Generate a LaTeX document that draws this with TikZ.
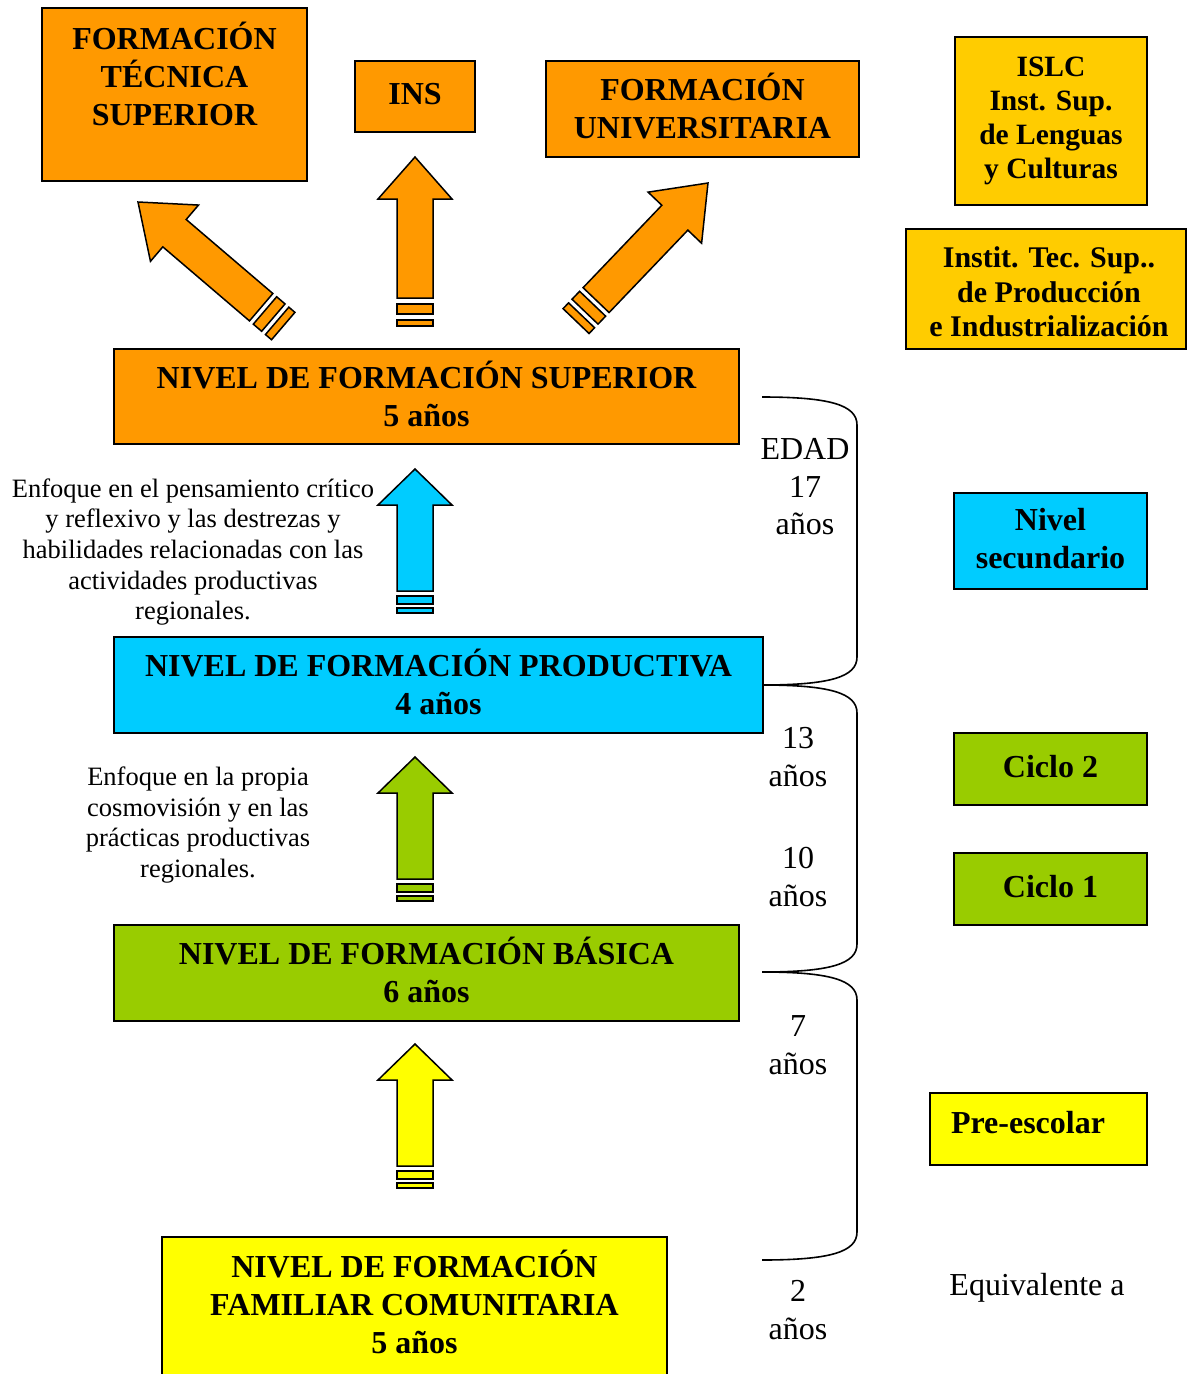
\documentclass[tikz,border=0pt]{standalone}
\usepackage{fontspec}
\setmainfont{Liberation Serif}
\definecolor{orng}{HTML}{FF9900}
\definecolor{cyn}{HTML}{00CCFF}
\definecolor{grn}{HTML}{99CC00}
\definecolor{ylw}{HTML}{FFFF00}
\definecolor{gld}{HTML}{FFCC00}
\tikzset{
  pics/striparrow/.style args={#1/#2/#3/#4/#5/#6/#7}{code={
    \draw[line width=1.5pt, line join=miter, fill=#1]
      (0,0) -- (37,#2) -- (18,#2) -- (18,#3) -- (-18,#3) -- (-18,#2) -- (-37,#2) -- cycle;
    \draw[line width=1.5pt, fill=#1] (-18,#4) rectangle (18,#5);
    \draw[line width=1.5pt, fill=#1] (-18,#6) rectangle (18,#7);
  }}
}
\begin{document}
\begin{tikzpicture}[x=1pt,y=-1pt,
  framed/.style={draw=black, line width=1.5pt, inner sep=0pt, align=center},
  box/.style={framed, font=\bfseries\fontsize{32}{38}\selectfont,
    execute at end node={\rule[-6pt]{0pt}{6pt}}},
  smallbox/.style={framed, font=\bfseries\fontsize{29.5}{34}\selectfont},
  btext/.style={inner sep=0pt, align=center, font=\bfseries\fontsize{32}{38}\selectfont},
  note/.style={inner sep=0pt, align=center, font=\fontsize{26.5}{30.6}\selectfont},
  age/.style={inner sep=0pt, align=center, font=\fontsize{32}{37.5}\selectfont},
  brace/.style={draw=black, line width=1.6pt}]
\useasboundingbox (0,0) rectangle (1187,1374);

% top boxes
\node[framed, fill=orng, minimum width=265pt, minimum height=173pt] (fts) at (174.5,94.5) {};
\node[btext] (ftstext) at (174.5,74) {FORMACIÓN\\TÉCNICA\\SUPERIOR};
\node[box, fill=orng, minimum width=120pt, minimum height=71pt] (ins) at (415,96.5) {INS};
\node[box, fill=orng, minimum width=313pt, minimum height=96pt] (fu) at (702.5,109) {FORMACIÓN\\UNIVERSITARIA};

% right boxes
\node[smallbox, fill=gld, minimum width=192pt, minimum height=168pt] (islc) at (1051,121) {ISLC\\Inst. Sup.\\de Lenguas\\y Culturas};
\node[framed, fill=gld, minimum width=280pt, minimum height=120pt] (itec) at (1046,289) {};
\node[inner sep=0pt, align=center, font=\bfseries\fontsize{30}{34.5}\selectfont] (itectext) at (1049,292) {Instit. Tec. Sup..\\de Producción\\e Industrialización};
\node[box, fill=cyn, minimum width=193pt, minimum height=96pt] (nsec) at (1050.5,541) {Nivel\\secundario};
\node[box, fill=grn, minimum width=193pt, minimum height=72pt] (c2) at (1050.5,769) {Ciclo 2};
\node[box, fill=grn, minimum width=193pt, minimum height=72pt] (c1) at (1050.5,889) {Ciclo 1};
\node[framed, fill=ylw, minimum width=217pt, minimum height=72pt] (pre) at (1038.5,1129) {};
\node[btext] (pretext) at (1028,1123) {Pre-escolar};
\node[age] (equiv) at (1037,1288) {Equivalente a};

% level boxes
\node[box, fill=orng, minimum width=625pt, minimum height=95pt] (nfs) at (426.5,396.5) {NIVEL DE FORMACIÓN SUPERIOR\\5 años};
\node[box, fill=cyn, minimum width=649pt, minimum height=96pt] (nfp) at (438.5,685) {NIVEL DE FORMACIÓN PRODUCTIVA\\4 años};
\node[box, fill=grn, minimum width=625pt, minimum height=96pt] (nfb) at (426.5,973) {NIVEL DE FORMACIÓN BÁSICA\\6 años};
\node[framed, fill=ylw, minimum width=505pt, minimum height=153pt] (nffc) at (414.5,1313.5) {};
\node[btext] (nffctext) at (414.5,1302) {NIVEL DE FORMACIÓN\\FAMILIAR COMUNITARIA\\5 años};

% notes
\node[note] (note1) at (193,552) {Enfoque en el pensamiento crítico\\y reflexivo y las destrezas y\\habilidades relacionadas con las\\actividades productivas\\regionales.};
\node[note] (note2) at (198,825) {Enfoque en la propia\\cosmovisión y en las\\prácticas productivas\\regionales.};

% arrows
\pic[rotate=49.5] at (138,202) {striparrow={orng/48/162/167/178/183/191}};
\pic at (415,157) {striparrow={orng/42/141/147/157/163/169}};
\pic[rotate=-43.7] at (708,183) {striparrow={orng/48/162/167/178/183/191}};
\pic at (415,469) {striparrow={cyn/36/122/127/135/139/144}};
\pic at (415,757) {striparrow={grn/36/122/127/135/139/144}};
\pic at (415,1044) {striparrow={ylw/36/122/127/135/139/144}};

% brackets
\draw[brace] (762,397) .. controls (830,397) and (857,405) .. (857,425) -- (857,657) .. controls (857,677) and (830,685) .. (762,685);
\draw[brace] (762,685) .. controls (830,685) and (857,693) .. (857,713) -- (857,944) .. controls (857,964) and (830,972) .. (762,972);
\draw[brace] (762,972) .. controls (830,972) and (857,980) .. (857,1000) -- (857,1232) .. controls (857,1252) and (830,1260) .. (762,1260);

% ages
\node[age] (a17) at (805,487) {EDAD\\17\\años};
\node[age] (a13) at (798,757) {13\\años};
\node[age] (a10) at (798,877) {10\\años};
\node[age] (a7) at (798,1045) {7\\años};
\node[age] (a2) at (798,1310) {2\\años};
\end{tikzpicture}
\end{document}
